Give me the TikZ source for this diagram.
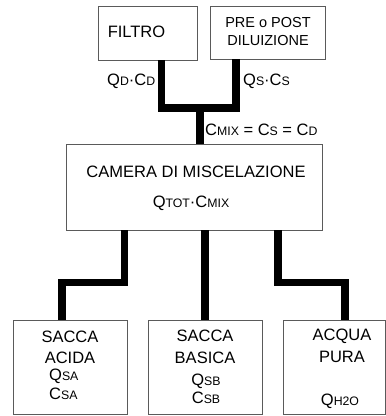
\documentclass[tikz,border=0pt]{standalone}
\usepackage{fontspec}
\setmainfont{Liberation Sans}
\usetikzlibrary{calc}
\definecolor{boxgray}{RGB}{90,90,90}
\newcommand{\qsub}[2]{#1{\fontsize{12.3}{13}\selectfont #2}}
\tikzset{
  box/.style={draw=boxgray, line width=0.8pt, inner sep=0pt},
  pipe/.style={line width=7.5pt, line join=miter},
  lbl/.style={inner sep=0pt, font=\fontsize{16.5}{19}\selectfont},
  lblsmall/.style={inner sep=0pt, font=\fontsize{14.5}{18}\selectfont}
}
\begin{document}
\begin{tikzpicture}[x=1pt, y=-1pt]
        \useasboundingbox (0,0) rectangle (386,416);

        % sorgenti in alto
        \node[box, minimum width=99pt, minimum height=54pt] (filtro) at (147.5,33) {};
        \node[box, minimum width=115pt, minimum height=53pt] (diluiz) at (267.5,32.5) {};
        \node[lbl, anchor=base] (tfiltro) at (136.5,37) {FILTRO};
        \node[lblsmall, anchor=base] (tpre) at (268,27) {PRE o POST};
        \node[lblsmall, anchor=base] (tdil) at (268,45) {DILUIZIONE};
        \node[lbl, anchor=base west] (qd) at (107,85.5) {\qsub{Q}{D}·\qsub{C}{D}};
        \node[lbl, anchor=base west] (qs) at (243,85.5) {\qsub{Q}{S}·\qsub{C}{S}};

        % camera di miscelazione
        \node[box, minimum width=256pt, minimum height=86pt] (camera) at (194,187) {};
        \node[lbl, anchor=base] (tcam) at (196,177.5) {CAMERA DI MISCELAZIONE};
        \node[lbl, anchor=base] (qtot) at (191,207.5) {\qsub{Q}{TOT}·\qsub{C}{MIX}};
        \node[lbl, anchor=base west] (cmix) at (205,135.5) {\qsub{C}{MIX} = \qsub{C}{S} = \qsub{C}{D}};

        % sacche in basso
        \node[box, minimum width=114pt, minimum height=94pt] (acida) at (70,367) {};
        \node[box, minimum width=114pt, minimum height=94pt] (basica) at (205,367) {};
        \node[box, minimum width=102pt, minimum height=94pt] (acqua) at (334,367) {};

        \node[lbl, anchor=base] (ta1) at (70,342.5) {SACCA};
        \node[lbl, anchor=base] (ta2) at (70,363.5) {ACIDA};
        \node[lbl, anchor=base west] (ta3) at (49,380.5) {\qsub{Q}{SA}};
        \node[lbl, anchor=base west] (ta4) at (49,399.5) {\qsub{C}{SA}};

        \node[lbl, anchor=base] (tb1) at (205,341.5) {SACCA};
        \node[lbl, anchor=base] (tb2) at (205,363.5) {BASICA};
        \node[lbl, anchor=base] (tb3) at (206,385.5) {\qsub{Q}{SB}};
        \node[lbl, anchor=base] (tb4) at (206,403.5) {\qsub{C}{SB}};

        \node[lbl, anchor=base] (tc1) at (342,340.5) {ACQUA};
        \node[lbl, anchor=base] (tc2) at (342,362.5) {PURA};
        \node[lbl, anchor=base] (tc3) at (340,405.5) {\qsub{Q}{H2O}};

        % tubi
        \coordinate (junct) at (200,108);
        \draw[pipe] ([xshift=14pt]filtro.south) |- (junct) -| ([xshift=-31.5pt]diluiz.south);
        \draw[pipe] (junct) -- (junct |- camera.north);
        \draw[pipe] ([xshift=-69.5pt]camera.south) -- ++(0,52) -| ([xshift=-8pt]acida.north);
        \draw[pipe] ([xshift=11pt]camera.south) -- (basica.north);
        \draw[pipe] ([xshift=84pt]camera.south) -- ++(0,52) -| ([xshift=11pt]acqua.north);
    \end{tikzpicture}
\end{document}
